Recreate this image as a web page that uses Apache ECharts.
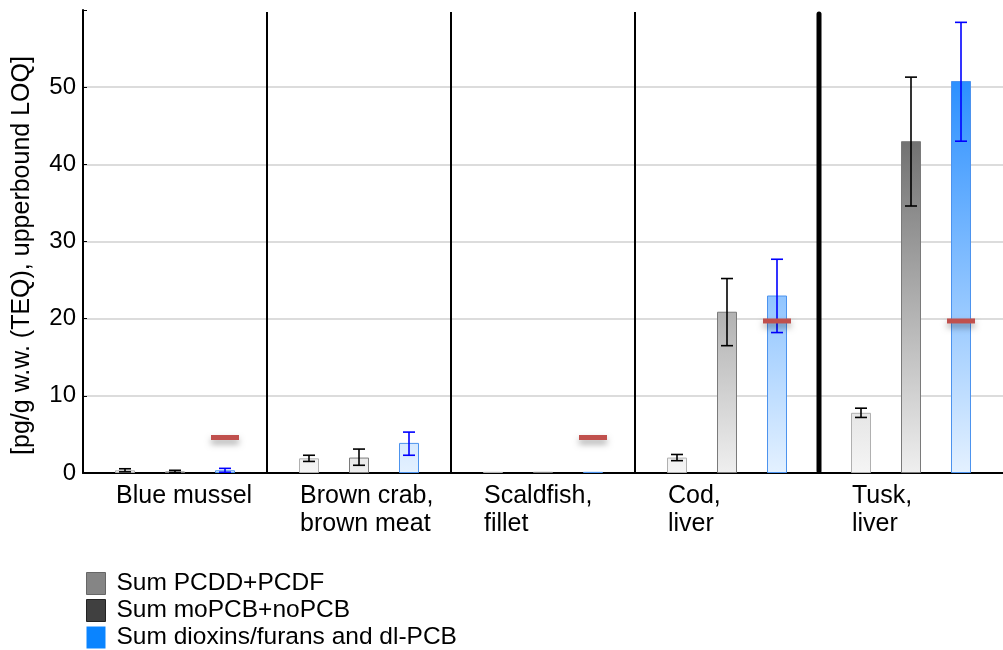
<!DOCTYPE html>
<html>
<head>
<meta charset="utf-8">
<script src="https://cdn.jsdelivr.net/npm/echarts@6/dist/echarts.min.js"></script>
<style>
  html, body { margin: 0; padding: 0; background: #fff; }
  #chart { width: 1003px; height: 650px; }
</style>
</head>
<body>
<div id="chart"></div>
<script>
// categories and series values
const categories = ['Blue mussel', 'Brown crab,\nbrown meat', 'Scaldfish,\nfillet', 'Cod,\nliver', 'Tusk,\nliver']
const seriesNames = ['Sum PCDD+PCDF', 'Sum moPCB+noPCB', 'Sum dioxins/furans and dl-PCB']

const pcddPcdf = [0.35, 1.9, 0.15, 2.0, 7.8]
const pcddPcdfLow = [0.15, 1.5, null, 1.6, 7.2]
const pcddPcdfHigh = [0.55, 2.3, null, 2.4, 8.4]

const moNoPcb = [0.2, 2.0, 0.15, 20.9, 43.0]
const moNoPcbLow = [0.05, 1.0, null, 16.5, 34.6]
const moNoPcbHigh = [0.35, 3.1, null, 25.2, 51.3]

const dioxDlPcb = [0.35, 3.9, 0.15, 23.0, 50.8]
const dioxDlPcbLow = [0.1, 2.3, null, 18.2, 43.0]
const dioxDlPcbHigh = [0.6, 5.3, null, 27.7, 58.4]

// maximum level (red marks)
const maxLevel = [4.6, null, 4.6, 19.7, 19.7]

// group separators: index of the category right of the line
const separators = [1, 2, 3, 4]

const yTicks = [0, 10, 20, 30, 40, 50, 60]

const font = "'Liberation Sans', Arial, sans-serif"
const gridTop = 10
const gridBottom = 177
const chartH = 650

const grad = (top, bottom) => ({
  type: 'linear',
  x: 0,
  y: gridTop,
  x2: 0,
  y2: chartH - gridBottom,
  global: true,
  colorStops: [
    { offset: 0, color: top },
    { offset: 1, color: bottom }
  ]
})

const errData = (low, high) => low.map((l, i) => [i, l, high[i]])
  .filter(d => d[1] != null)

// error bar renderer, offset = bar offset from category centre
const errRender = (offset, color) => (params, api) => {
  const x = api.coord([api.value(0), 0])[0] + offset
  const yLo = api.coord([api.value(0), api.value(1)])[1]
  const yHi = api.coord([api.value(0), api.value(2)])[1]
  const cap = 6
  const style = { stroke: color, lineWidth: 1.6 }
  return {
    type: 'group',
    children: [
      { type: 'line', shape: { x1: x, y1: yLo, x2: x, y2: yHi }, style },
      { type: 'line', shape: { x1: x - cap, y1: yLo, x2: x + cap, y2: yLo }, style },
      { type: 'line', shape: { x1: x - cap, y1: yHi, x2: x + cap, y2: yHi }, style }
    ]
  }
}

const chart = echarts.init(document.getElementById('chart'), null, { renderer: 'canvas' })

const option = {
  animation: false,
  backgroundColor: '#fff',
  textStyle: { fontFamily: font, color: '#000' },
  grid: {
    left: 83,
    right: -4,
    top: gridTop,
    bottom: gridBottom
  },
  legend: {
    orient: 'vertical',
    left: 86,
    top: 571,
    height: 140,
    padding: 0,
    itemWidth: 19,
    itemHeight: 22,
    itemGap: 2,
    icon: 'rect',
    selectedMode: false,
    textStyle: { fontFamily: font, fontSize: 24.5, lineHeight: 22, color: '#000', padding: [0, 0, 0, 6] },
    data: [
      { name: seriesNames[0], itemStyle: { color: '#858585', borderColor: '#666', borderWidth: 1 } },
      { name: seriesNames[1], itemStyle: { color: '#404040', borderColor: '#222', borderWidth: 1 } },
      { name: seriesNames[2], itemStyle: { color: '#0a84ff', borderWidth: 0 } }
    ]
  },
  xAxis: {
    type: 'category',
    data: categories,
    axisLine: { lineStyle: { color: '#000', width: 2 } },
    axisTick: { show: false },
    splitLine: { show: false },
    axisLabel: {
      interval: 0,
      margin: 9,
      color: '#000',
      formatter: v => v.split('\n').map(s => '{t|' + s + '}').join('\n'),
      rich: {
        t: { width: 118, align: 'left', fontSize: 25, lineHeight: 28, fontFamily: font, color: '#000' }
      }
    }
  },
  yAxis: {
    type: 'value',
    min: 0,
    max: 60,
    interval: 10,
    name: '[pg/g w.w. (TEQ), upperbound LOQ]',
    nameLocation: 'middle',
    nameGap: 48,
    nameTextStyle: { fontSize: 25, color: '#000', fontFamily: font, padding: [0, 28, 0, 0] },
    axisLine: { show: true, lineStyle: { color: '#000', width: 2 } },
    axisTick: { show: true, inside: true, length: 4, lineStyle: { color: '#000' } },
    axisLabel: {
      fontSize: 24,
      color: '#000',
      margin: 7,
      formatter: v => (v === yTicks[yTicks.length - 1] ? '' : String(v))
    },
    splitLine: {
      lineStyle: {
        color: ['#dcdcdc', '#dcdcdc', '#dcdcdc', '#dcdcdc', '#dcdcdc', '#dcdcdc', 'rgba(0,0,0,0)'],
        width: 2
      }
    }
  },
  series: [
    {
      name: seriesNames[0],
      type: 'bar',
      data: pcddPcdf,
      barWidth: 20,
      barGap: '150%',
      itemStyle: { color: grad('#808080', '#f5f5f5'), borderColor: '#b0b0b0', borderWidth: 1 }
    },
    {
      name: seriesNames[1],
      type: 'bar',
      data: moNoPcb,
      barWidth: 20,
      barGap: '150%',
      itemStyle: { color: grad('#404040', '#efefef'), borderColor: '#7a7a7a', borderWidth: 1 }
    },
    {
      name: seriesNames[2],
      type: 'bar',
      data: dioxDlPcb,
      barWidth: 20,
      barGap: '150%',
      itemStyle: { color: grad('#0a7eff', '#e4f1ff'), borderColor: '#4c93ee', borderWidth: 1 }
    },
    {
      type: 'custom',
      name: 'err1',
      data: errData(pcddPcdfLow, pcddPcdfHigh),
      renderItem: errRender(-50, '#000'),
      z: 5
    },
    {
      type: 'custom',
      name: 'err2',
      data: errData(moNoPcbLow, moNoPcbHigh),
      renderItem: errRender(0, '#000'),
      z: 5
    },
    {
      type: 'custom',
      name: 'err3',
      data: errData(dioxDlPcbLow, dioxDlPcbHigh),
      renderItem: errRender(50, '#0000ff'),
      z: 5
    },
    {
      type: 'custom',
      name: 'maxLevel',
      data: maxLevel.map((v, i) => [i, v]).filter(d => d[1] != null),
      z: 6,
      renderItem: (params, api) => {
        const p = api.coord([api.value(0), api.value(1)])
        return {
          type: 'rect',
          shape: { x: p[0] + 50 - 14, y: p[1] - 2.5, width: 28, height: 5 },
          style: {
            fill: '#c0504d',
            shadowBlur: 6,
            shadowOffsetY: 4,
            shadowColor: 'rgba(0,0,0,0.35)'
          }
        }
      }
    },
    {
      type: 'custom',
      name: 'separators',
      data: separators.map(i => [i, 0]),
      z: 7,
      silent: true,
      renderItem: (params, api) => {
        const idx = api.value(0)
        const x = api.coord([idx, 0])[0] - api.size([1, 0])[0] / 2
        const top = params.coordSys.y + 2
        const bottom = params.coordSys.y + params.coordSys.height
        const thick = idx === separators[separators.length - 1]
        return {
          type: 'line',
          shape: { x1: x, y1: top + (thick ? 2 : 0), x2: x, y2: bottom - (thick ? 2 : 0) },
          style: { stroke: '#000', lineWidth: thick ? 5 : 2, lineCap: thick ? 'round' : 'butt' }
        }
      }
    }
  ]
}

option && chart.setOption(option)
</script>
</body>
</html>
